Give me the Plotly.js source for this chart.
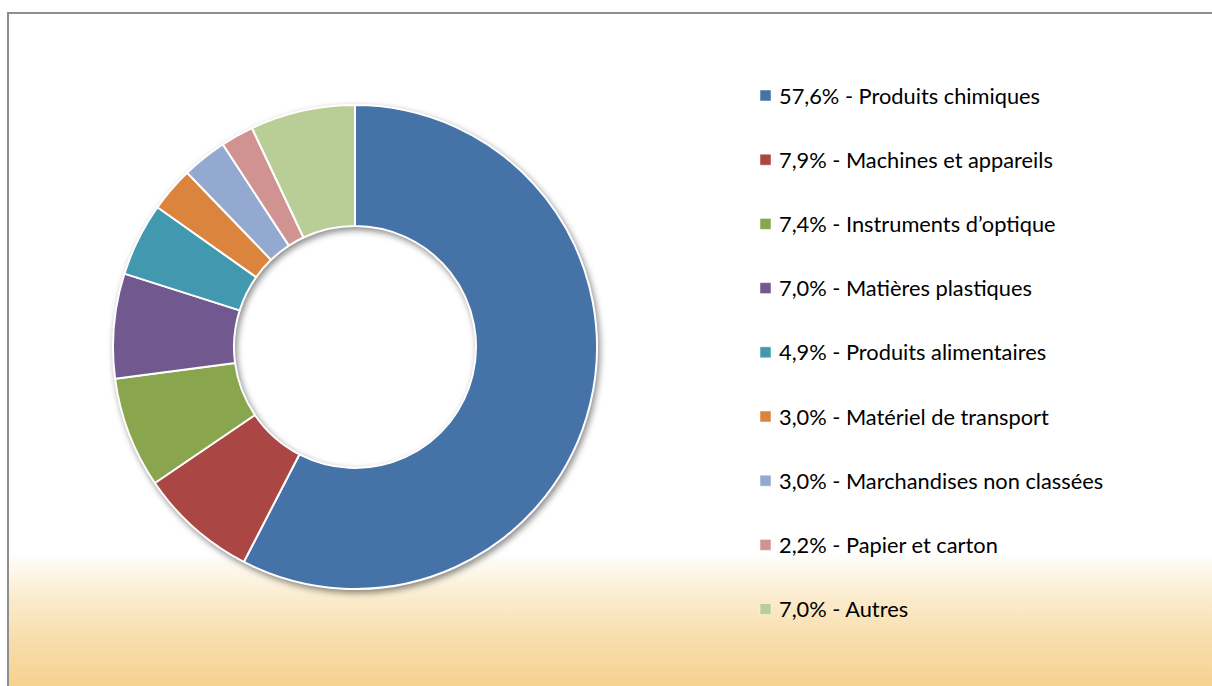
<!DOCTYPE html>
<html>
<head>
<meta charset="utf-8">
<script src="https://cdn.plot.ly/plotly-3.0.1.min.js"></script>
<style>
  html, body { margin: 0; padding: 0; background: #ffffff; }
  #frame {
    position: absolute; left: 7px; top: 12px; width: 1210px; height: 680px;
    border-left: 2px solid #8e8e8e; border-top: 2px solid #8e8e8e;
    background: linear-gradient(to bottom, #ffffff 0px, #ffffff 538px, #fbebcc 585px, #f8dca8 630px, #f5d08c 680px);
  }
  #chart { position: absolute; left: 0; top: 0; width: 1212px; height: 686px; }
  #chart .pielayer { filter: drop-shadow(2px 3px 3px rgba(0,0,0,0.45)); }
</style>
</head>
<body>
<div id="frame"></div>
<div id="chart"></div>
<script>
const categories = [
  "Produits chimiques",
  "Machines et appareils",
  "Instruments d\u2019optique",
  "Mati\u00e8res plastiques",
  "Produits alimentaires",
  "Mat\u00e9riel de transport",
  "Marchandises non class\u00e9es",
  "Papier et carton",
  "Autres"
];
const values = [57.6, 7.9, 7.4, 7.0, 4.9, 3.0, 3.0, 2.2, 7.0];
const valueLabels = ["57,6%", "7,9%", "7,4%", "7,0%", "4,9%", "3,0%", "3,0%", "2,2%", "7,0%"];
const colors = ["#4572A7", "#AA4643", "#89A54E", "#71588F", "#4198AF", "#DB843D", "#93A9CF", "#D19392", "#B9CD96"];

const W = 1212, H = 686;
const trace = {
  type: "pie",
  labels: categories,
  values: values,
  hole: 0.5,
  sort: false,
  direction: "clockwise",
  rotation: 0,
  textinfo: "none",
  hoverinfo: "label+percent",
  marker: { colors: colors, line: { color: "#ffffff", width: 2 } },
  domain: { x: [113 / W, 597 / W], y: [(H - 589) / H, (H - 105) / H] },
  showlegend: false
};

// Legend built from the data arrays
const legendTop = 95.5, legendStep = 64.2;
const shapes = [], annotations = [];
categories.forEach((c, i) => {
  const yc = legendTop + i * legendStep;
  shapes.push({
    type: "rect", xref: "paper", yref: "paper",
    x0: 760 / W, x1: 771 / W, y0: 1 - (yc - 5.5) / H, y1: 1 - (yc + 5.5) / H,
    fillcolor: colors[i], line: { color: "#ffffff", width: 0.5 }
  });
  annotations.push({
    xref: "paper", yref: "paper", x: 777 / W, y: 1 - (yc - 0.5) / H,
    xanchor: "left", yanchor: "middle", showarrow: false,
    text: valueLabels[i] + " - " + c,
    font: { family: "Lato, 'Open Sans', sans-serif", size: 21.8, color: "#000000" }
  });
});

const layout = {
  width: W, height: H,
  margin: { l: 0, r: 0, t: 0, b: 0 },
  paper_bgcolor: "rgba(0,0,0,0)",
  plot_bgcolor: "rgba(0,0,0,0)",
  showlegend: false,
  shapes: shapes,
  annotations: annotations
};

Plotly.newPlot("chart", [trace], layout, { displayModeBar: false, staticPlot: true });
</script>
</body>
</html>
